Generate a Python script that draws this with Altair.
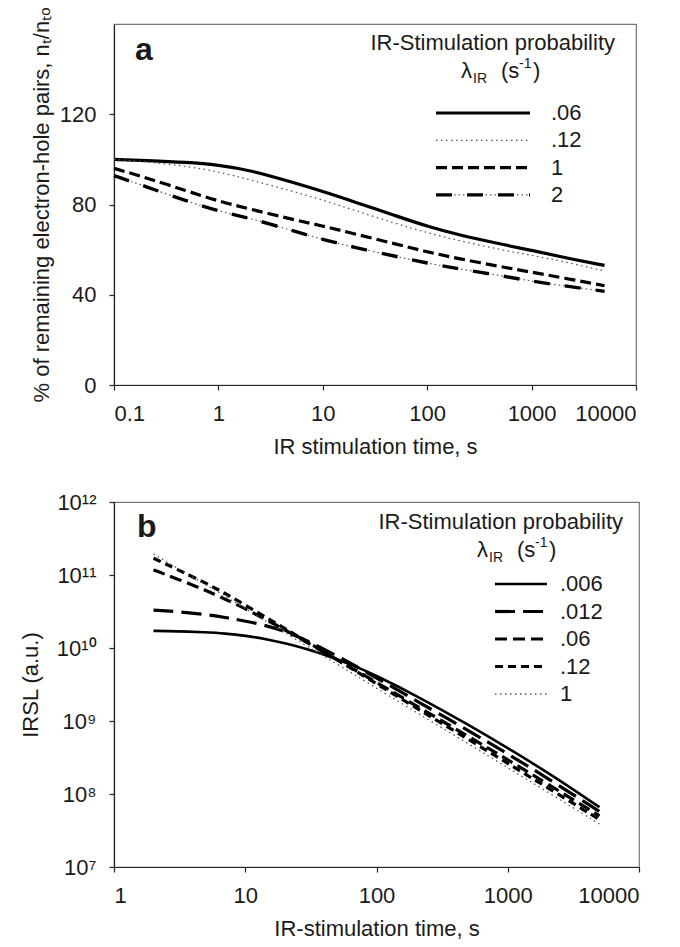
import altair as alt
import pandas as pd

# ---------------- data: panel a ----------------
t_a = [0.1, 0.2, 0.5, 1, 2, 5, 10, 20, 50, 100, 200, 500, 1000, 2000, 5000]
a_006 = [100, 99.5, 98.7, 97.5, 95.2, 90.0, 85.8, 81.2, 75.0, 70.3, 66.5, 62.5, 59.7, 56.6, 53.0]
a_012 = [100, 99.0, 97.0, 94.5, 91.0, 86.0, 82.0, 77.5, 71.5, 67.5, 64.0, 60.0, 57.5, 54.8, 50.5]
a_1 = [96.0, 92.0, 86.0, 81.5, 78.0, 73.5, 70.5, 67.0, 62.5, 59.0, 56.0, 52.5, 50.0, 47.5, 44.0]
a_2 = [92.8, 88.0, 81.5, 77.0, 74.0, 68.5, 64.5, 61.0, 57.0, 54.0, 51.5, 48.5, 46.0, 44.0, 41.5]
series_a = [".06", ".12", "1", "2"]
values_a = [a_006, a_012, a_1, a_2]

# ---------------- data: panel b (log10 of IRSL) ----------------
t_b = [2, 3, 5, 7, 10, 15, 20, 30, 50, 70, 100, 200, 500, 1000, 2000, 5000]
b_0006 = [10.235, 10.23, 10.215, 10.20, 10.17, 10.115, 10.067, 9.984, 9.849, 9.744, 9.62, 9.35, 8.95, 8.63, 8.30, 7.82]
b_0012 = [10.52, 10.50, 10.46, 10.42, 10.37, 10.30, 10.23, 10.10, 9.89, 9.75, 9.59, 9.28, 8.87, 8.55, 8.22, 7.76]
b_006 = [11.07, 10.95, 10.79, 10.67, 10.54, 10.37, 10.25, 10.07, 9.84, 9.69, 9.53, 9.21, 8.79, 8.47, 8.14, 7.70]
b_012 = [11.23, 11.08, 10.89, 10.75, 10.59, 10.40, 10.27, 10.08, 9.84, 9.68, 9.51, 9.18, 8.75, 8.42, 8.09, 7.65]
b_1 = [11.29, 11.10, 10.87, 10.71, 10.54, 10.35, 10.21, 10.02, 9.78, 9.62, 9.45, 9.12, 8.69, 8.36, 8.03, 7.59]
series_b = [".006", ".012", ".06", ".12", "1"]
values_b = [b_0006, b_0012, b_006, b_012, b_1]

FONT = "Liberation Sans"
FS = 22
TXT = "#1a1a1a"

# line styles (each entry: list of strokes drawn on top of each other)
styles_a = {
    ".06": [dict(strokeWidth=3.2, color="black")],
    ".12": [dict(strokeWidth=1.3, color="#555555", strokeDash=[1.5, 3.5])],
    "1": [dict(strokeWidth=3.2, color="black", strokeDash=[11, 5])],
    "2": [dict(strokeWidth=1.2, color="#555555", strokeDash=[1.5, 3]),
          dict(strokeWidth=3.4, color="black", strokeDash=[16, 15])],
}
styles_b = {
    ".006": [dict(strokeWidth=2.6, color="black")],
    ".012": [dict(strokeWidth=3.2, color="black", strokeDash=[20, 8])],
    ".06": [dict(strokeWidth=3.2, color="black", strokeDash=[12, 6])],
    ".12": [dict(strokeWidth=3.2, color="black", strokeDash=[8, 5])],
    "1": [dict(strokeWidth=1.3, color="#555555", strokeDash=[1.5, 3.5])],
}

one = pd.DataFrame({"k": [0]})


def text(txt, x, y, size=FS, align="left", weight="normal", baseline="alphabetic"):
    return alt.Chart(one).mark_text(
        text=txt, font=FONT, fontSize=size, align=align, baseline=baseline,
        fontWeight=weight, color=TXT
    ).encode(x=alt.value(x), y=alt.value(y))


def legend(series, styles, x1, x2, xl, y0, dy, title_x, title_y, lam_x, lam_y):
    layers = [
        text("IR-Stimulation probability", title_x, title_y, align="right"),
        text("λ", lam_x, lam_y),
        text("IR", lam_x + 12, lam_y + 5, size=14),
        text("(s", lam_x + 40, lam_y),
        text("-1", lam_x + 58, lam_y - 10, size=14),
        text(")", lam_x + 72, lam_y),
    ]
    for i, s in enumerate(series):
        y = y0 + i * dy
        for st in styles[s]:
            layers.append(
                alt.Chart(one).mark_rule(**st).encode(
                    x=alt.value(x1), x2=alt.value(x2), y=alt.value(y))
            )
        layers.append(text(s, xl, y, baseline="middle"))
    return layers


# ---------------- panel a ----------------
rows = []
for s, vals in zip(series_a, values_a):
    for t, v in zip(t_a, vals):
        rows.append({"t": t, "v": v, "series": s})
df_a = pd.DataFrame(rows)

xa = alt.X("t:Q", scale=alt.Scale(type="log", domain=[0.1, 10000]),
           axis=alt.Axis(values=[0.1, 1, 10, 100, 1000, 10000], format="~g",
                         title="IR stimulation time, s", titlePadding=12))
ya = alt.Y("v:Q", scale=alt.Scale(domain=[0, 160]),
           axis=alt.Axis(values=[0, 40, 80, 120],
                         title="% of remaining electron-hole pairs, nₜ/nₜₒ",
                         titlePadding=6))

layers_a = []
for s in series_a:
    for st in styles_a[s]:
        layers_a.append(
            alt.Chart(df_a).transform_filter(alt.datum.series == s)
            .mark_line(interpolate="basis", **st).encode(x=xa, y=ya)
        )
layers_a.append(text("a", 21, 36, size=32, weight="bold"))
layers_a += legend(series_a, styles_a, 322, 416, 437, 89, 27.3, 501, 26, 347, 54)

panel_a = alt.layer(*layers_a).properties(width=522, height=361)

# ---------------- panel b ----------------
rows = []
for s, vals in zip(series_b, values_b):
    for t, lv in zip(t_b, vals):
        rows.append({"t": t, "v": 10 ** lv, "series": s})
df_b = pd.DataFrame(rows)

xb = alt.X("t:Q", scale=alt.Scale(type="log", domain=[1, 10000]),
           axis=alt.Axis(values=[1, 10, 100, 1000, 10000], format="~g",
                         title="IR-stimulation time, s", titlePadding=12))
yb = alt.Y("v:Q", scale=alt.Scale(type="log", domain=[1e7, 1e12]),
           axis=alt.Axis(values=[1e7, 1e8, 1e9, 1e10, 1e11, 1e12],
                         labelExpr="['10⁷','10⁸','10⁹','10¹⁰','10¹¹','10¹²'][round(log(datum.value)/LN10)-7]",
                         title="IRSL (a.u.)", titlePadding=14))

layers_b = []
for s in series_b:
    for st in styles_b[s]:
        layers_b.append(
            alt.Chart(df_b).transform_filter(alt.datum.series == s)
            .mark_line(interpolate="basis", **st).encode(x=xb, y=yb)
        )
layers_b.append(text("b", 23, 35, size=32, weight="bold"))
layers_b += legend(series_b, styles_b, 381, 433, 446, 82, 27.5, 509, 27, 363, 55)

panel_b = alt.layer(*layers_b).properties(width=525, height=365)

chart = alt.vconcat(panel_a, panel_b, spacing=32).properties(
    padding={"left": 18, "top": 6, "right": 5, "bottom": 5}
).configure_axis(
    grid=False, labelFont=FONT, titleFont=FONT, labelFontSize=FS, titleFontSize=FS,
    titleFontWeight="normal", labelColor=TXT, titleColor=TXT,
    domainColor="#222222", tickColor="#222222", tickSize=5, labelPadding=13,
    domainWidth=1.2, tickWidth=1.2
).configure_view(stroke="#777777", strokeWidth=1.2)

chart.save("out.html", embed_options={"renderer": "svg", "actions": False})
